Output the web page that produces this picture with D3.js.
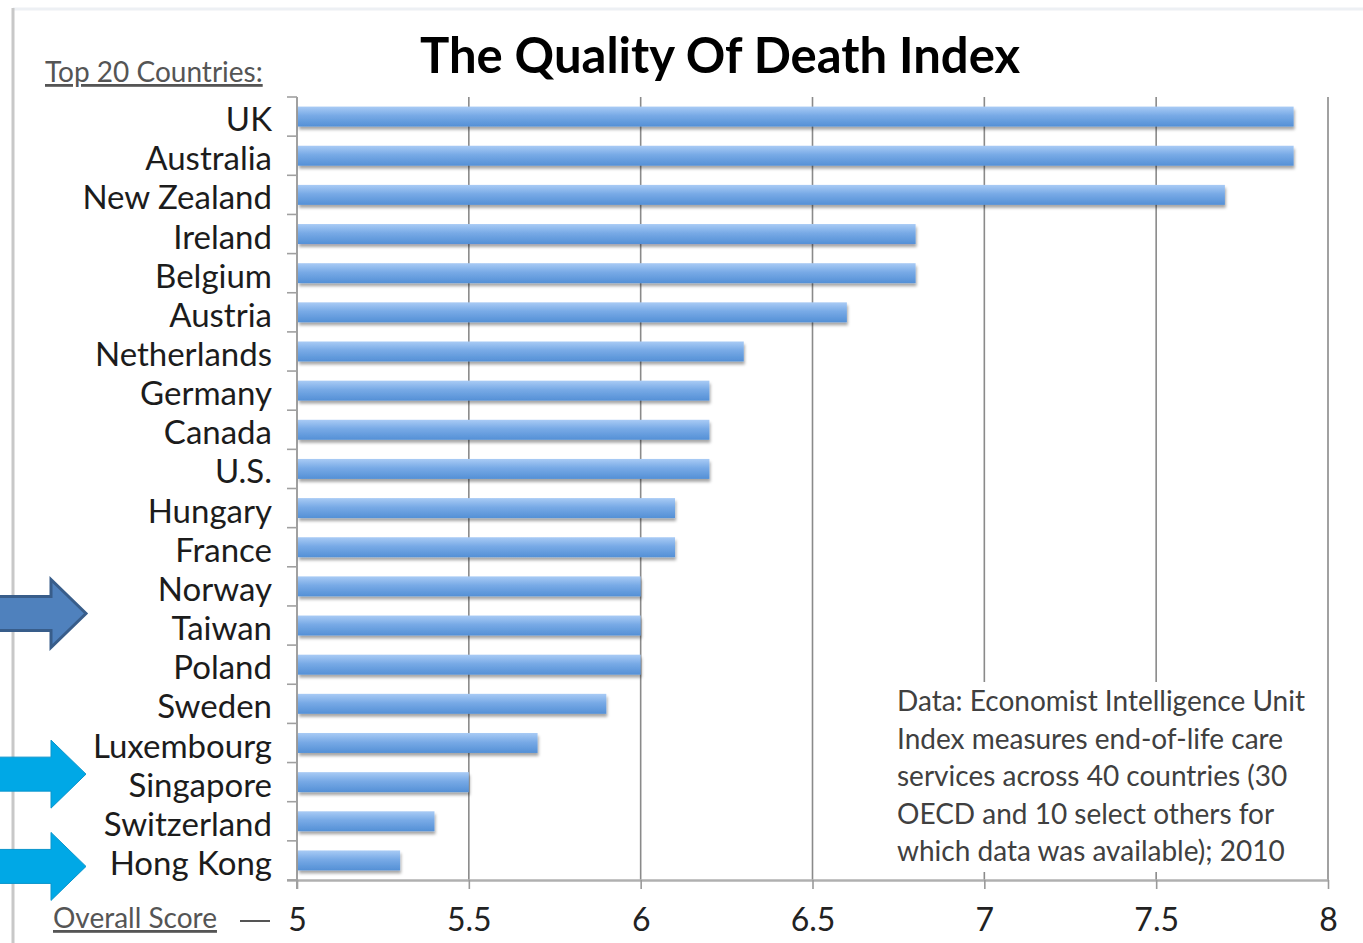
<!DOCTYPE html>
<html>
<head>
<meta charset="utf-8">
<script src="https://cdn.jsdelivr.net/npm/d3@7"></script>
<style>
  html, body { margin: 0; padding: 0; background: #fff; }
  svg { display: block; font-family: Lato, "Open Sans", sans-serif; }
</style>
</head>
<body>
<svg id="chart" width="1363" height="943"></svg>
<script>
const countries = ["UK","Australia","New Zealand","Ireland","Belgium","Austria","Netherlands","Germany","Canada","U.S.","Hungary","France","Norway","Taiwan","Poland","Sweden","Luxembourg","Singapore","Switzerland","Hong Kong"];
const scores = [7.9,7.9,7.7,6.8,6.8,6.6,6.3,6.2,6.2,6.2,6.1,6.1,6.0,6.0,6.0,5.9,5.7,5.5,5.4,5.3];
const xTicks = [5,5.5,6,6.5,7,7.5,8];
const xTickLabels = ["5","5.5","6","6.5","7","7.5","8"];
const titleText = "The Quality Of Death Index";
const yHeader = "Top 20 Countries:";
const xHeader = "Overall Score";
const noteLines = ["Data: Economist Intelligence Unit","Index measures end-of-life care","services across 40 countries (30","OECD and 10 select others for","which data was available); 2010"];
const arrowTargets = ["Taiwan","Singapore","Hong Kong"];
const arrowKinds = ["dark","light","light"];

const data = countries.map((c,i)=>({country:c, score:scores[i]}));
const svg = d3.select("#chart");

const x = d3.scaleLinear().domain([5,8]).range([297,1328]);
const y = d3.scaleBand().domain(countries).range([97,880]).paddingInner(0.49).paddingOuter(0.245);

const defs = svg.append("defs");
const grad = defs.append("linearGradient").attr("id","barGrad").attr("x1",0).attr("y1",0).attr("x2",0).attr("y2",1);
grad.append("stop").attr("offset","0%").attr("stop-color","#a9cbf5");
grad.append("stop").attr("offset","45%").attr("stop-color","#78aae6");
grad.append("stop").attr("offset","100%").attr("stop-color","#5490d6");
const f = defs.append("filter").attr("id","shadow").attr("x","-5%").attr("y","-50%").attr("width","110%").attr("height","220%");
f.append("feDropShadow").attr("dx",1).attr("dy",3).attr("stdDeviation",1.8).attr("flood-color","#000").attr("flood-opacity",0.35);

// frame lines
svg.append("line").attr("x1",13).attr("x2",1363).attr("y1",9).attr("y2",9).attr("stroke","#edf0f4").attr("stroke-width",3);
svg.append("line").attr("x1",13).attr("x2",13).attr("y1",8).attr("y2",943).attr("stroke","#c8c8c8").attr("stroke-width",3);

// gridlines
svg.append("g").selectAll("line").data(xTicks.filter(d=>d>5)).join("line")
  .attr("x1",d=>x(d)).attr("x2",d=>x(d))
  .attr("y1",y.range()[0]).attr("y2",y.range()[1])
  .attr("stroke","#8a8a8a").attr("stroke-width",1.6);

// x axis
const xAxis = svg.append("g").attr("transform",`translate(0,${y.range()[1]})`)
  .call(d3.axisBottom(x).tickValues(xTicks).tickSize(9).tickFormat((d,i)=>xTickLabels[i]).tickSizeOuter(0));
xAxis.select(".domain").attr("stroke","#b0b0b0").attr("stroke-width",2.5).attr("d",`M${x(5)-10},0.5H${x(8)}`);
xAxis.selectAll(".tick line").attr("stroke","#9a9a9a").attr("stroke-width",1.6);
xAxis.selectAll(".tick text").attr("y",40).attr("dy","0.35em").attr("fill","#222")
  .style("font-size","32px").style("font-family","Lato, sans-serif");

// y axis line and boundary ticks
const step = y.step();
const y0 = y.range()[0];
svg.append("line").attr("x1",x(5)).attr("x2",x(5)).attr("y1",y0).attr("y2",y.range()[1]+9)
  .attr("stroke","#a0a0a0").attr("stroke-width",2);
svg.append("g").selectAll("line").data(d3.range(countries.length+1)).join("line")
  .attr("x1",x(5)-10).attr("x2",x(5))
  .attr("y1",i=>y0+i*step).attr("y2",i=>y0+i*step)
  .attr("stroke","#a0a0a0").attr("stroke-width",1.6);

// bars
svg.append("g").selectAll("rect").data(data).join("rect")
  .attr("x",x(5)+1).attr("y",d=>y(d.country))
  .attr("width",d=>x(d.score)-x(5)-1).attr("height",y.bandwidth())
  .attr("fill","url(#barGrad)").attr("filter","url(#shadow)");

// category labels
svg.append("g").selectAll("text").data(data).join("text")
  .attr("x",272).attr("y",d=>y(d.country)+y.bandwidth()/2+3).attr("dy","0.35em")
  .attr("text-anchor","end").attr("fill","#1c1c1c")
  .style("font-size","33px").text(d=>d.country);

// title
svg.append("text").attr("x",720).attr("y",73).attr("text-anchor","middle")
  .attr("fill","#000").style("font-size","49px").style("font-weight","bold").text(titleText);

// header labels
svg.append("text").attr("x",45).attr("y",82).attr("fill","#555")
  .style("font-size","28px").style("text-decoration","underline").text(yHeader);
svg.append("text").attr("x",53).attr("y",928).attr("fill","#555")
  .style("font-size","28px").style("text-decoration","underline").text(xHeader);
svg.append("line").attr("x1",240).attr("x2",270).attr("y1",921).attr("y2",921).attr("stroke","#555").attr("stroke-width",2);

// annotation box
svg.append("rect").attr("x",880).attr("y",682).attr("width",443).attr("height",190).attr("fill","#fff");
svg.append("g").selectAll("text").data(noteLines).join("text")
  .attr("x",897).attr("y",(d,i)=>711+i*37.5).attr("fill","#404040")
  .style("font-size","28px").text(d=>d);

// arrows
const arrowStyle = {dark:{fill:"#4f81bd",stroke:"#385d8a",sw:3}, light:{fill:"#00a8e6",stroke:"#0a95cc",sw:1}};
const arrowOffset = {Taiwan:-12, Singapore:-8, "Hong Kong":6};
arrowTargets.forEach((c,i)=>{
  const cy = y(c)+y.bandwidth()/2 + arrowOffset[c];
  const s = arrowStyle[arrowKinds[i]];
  const p = d3.path();
  p.moveTo(-5, cy-17); p.lineTo(51, cy-17); p.lineTo(51, cy-34);
  p.lineTo(86, cy); p.lineTo(51, cy+34); p.lineTo(51, cy+17); p.lineTo(-5, cy+17); p.closePath();
  svg.append("path").attr("d",p.toString()).attr("fill",s.fill).attr("stroke",s.stroke).attr("stroke-width",s.sw).attr("stroke-linejoin","miter");
});
</script>
</body>
</html>
